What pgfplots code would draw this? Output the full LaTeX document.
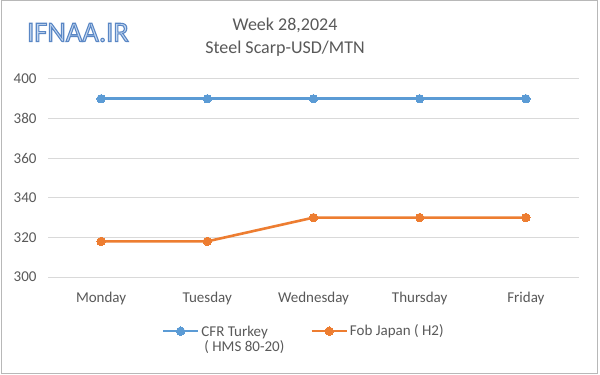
\documentclass[border=0pt]{standalone}
\usepackage{pgfplots}
\pgfplotsset{compat=1.18}
\usepackage{fontspec}
\setmainfont{Carlito}
\definecolor{serBlue}{HTML}{5B9BD5}
\definecolor{serOrange}{HTML}{ED7D31}
\definecolor{gridGray}{HTML}{D9D9D9}
\definecolor{txtGray}{HTML}{595959}
\definecolor{logoFill}{HTML}{C6D9F1}
\begin{document}
\begin{tikzpicture}[x=1pt,y=1pt]
\useasboundingbox (0,0) rectangle (600,375);
\fill[white] (0,0) rectangle (600,375);
\draw[color=gridGray!85!black, line width=1pt] (1,1) rectangle (597,374);
% logo (outlined text)
\node[font=\fontsize{28.5}{30}\selectfont, text=logoFill] at (78,342.5)
  {\special{pdf:literal direct 2 Tr 1.1 w 0.353 0.529 0.773 RG}IFNAA.IR\special{pdf:literal direct 0 Tr}};
% title
\node[anchor=base, font=\fontsize{18}{22}\selectfont, text=txtGray] at (285,344) {Week 28,2024};
\node[anchor=base, font=\fontsize{18}{22}\selectfont, text=txtGray] at (285,321) {Steel Scarp-USD/MTN};
\begin{axis}[
  at={(48pt,98pt)}, anchor=south west,
  scale only axis, width=531pt, height=198pt,
  xmin=-0.5, xmax=4.5, ymin=300, ymax=400,
  xtick={0,1,2,3,4},
  xticklabels={Monday,Tuesday,Wednesday,Thursday,Friday},
  ytick={300,320,340,360,380,400},
  axis line style={draw=none},
  major tick length=0pt,
  ymajorgrids, grid style={gridGray, line width=1pt},
  /pgf/number format/assume math mode=true,
  ticklabel style={font=\fontsize{15}{18}\selectfont, text=txtGray},
  yticklabel style={anchor=east, xshift=-8pt},
  xticklabel style={anchor=base, yshift=-25pt},
  legend columns=2,
  legend style={at={(0.214,-0.227)}, anchor=north west, draw=none, fill=none,
    font=\fontsize{15}{18}\selectfont, text=txtGray, inner sep=0pt,
    /tikz/every even column/.append style={column sep=24pt}},
  legend cell align=left,
  legend image code/.code={
    \draw[#1, mark repeat=2, mark phase=2] plot coordinates {(0pt,0pt) (17.5pt,0pt) (35pt,0pt)};
  },
]
\addplot[serBlue, line width=2.6pt, mark=*, mark size=4.2pt, mark options={solid, line width=0pt, draw=none}]
  coordinates {(0,390) (1,390) (2,390) (3,390) (4,390)};
\addlegendentry{\begin{tabular}[t]{@{}l@{}}CFR Turkey\\[-3pt]\hspace{3pt}( HMS 80-20)\end{tabular}}
\addplot[serOrange, line width=2.6pt, mark=*, mark size=4.2pt, mark options={solid, line width=0pt, draw=none}]
  coordinates {(0,318) (1,318) (2,330) (3,330) (4,330)};
\addlegendentry{Fob Japan ( H2)}
\end{axis}
\end{tikzpicture}
\end{document}
